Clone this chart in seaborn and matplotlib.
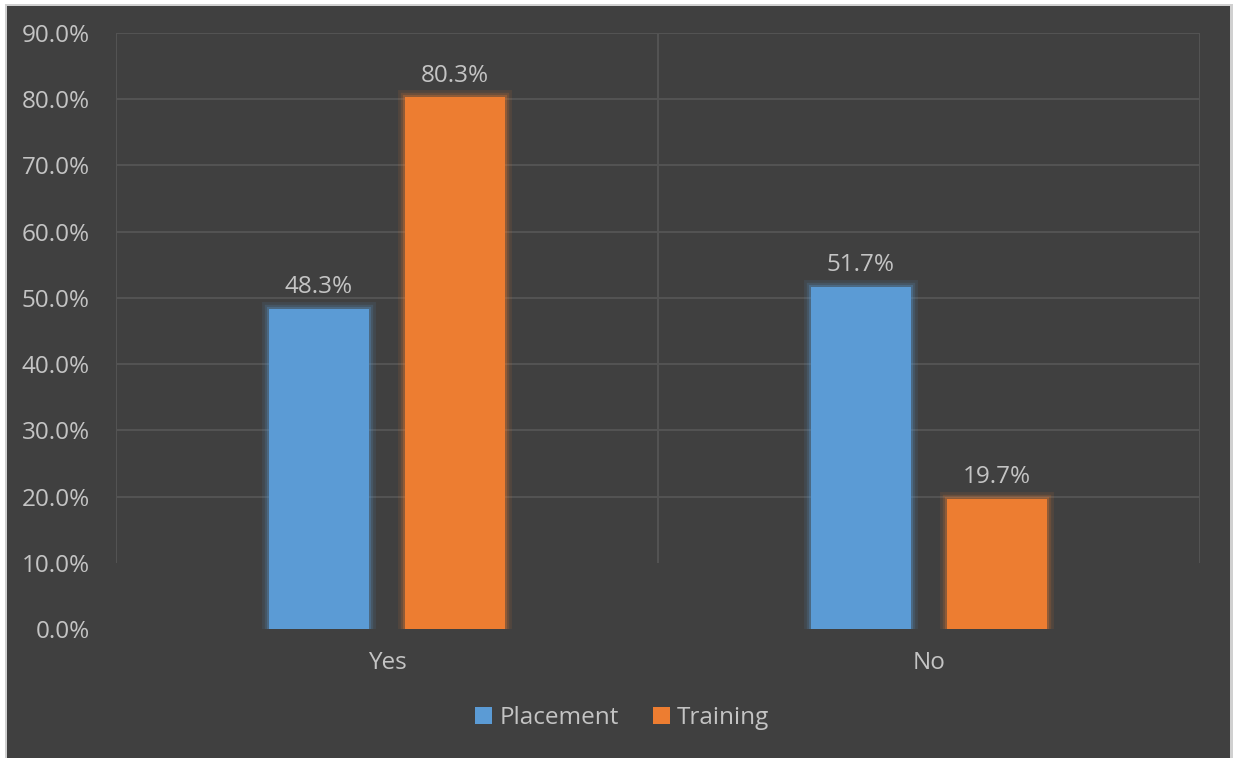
import matplotlib
matplotlib.use("Agg")
import matplotlib.pyplot as plt
import matplotlib.patheffects as pe
from matplotlib.patches import Rectangle
from matplotlib.ticker import FuncFormatter
import pandas as pd
import seaborn as sns

# Survey responses (percent of respondents)
categories = ["Yes", "No"]
series = ["Placement", "Training"]
placement = [48.3, 51.7]
training = [80.3, 19.7]
y_ticks = [0, 10, 20, 30, 40, 50, 60, 70, 80, 90]

df = pd.DataFrame({
    "answer": categories * 2,
    "series": [series[0]] * len(categories) + [series[1]] * len(categories),
    "value": placement + training,
})

BG = "#404040"
GRID = "#545454"
TEXT = "#c4c4c4"
COLORS = {"Placement": "#5b9bd5", "Training": "#ed7d31"}
FS = 17.5

sns.set_theme(style="white")
plt.rcParams["font.family"] = ["Open Sans", "DejaVu Sans"]

fig = plt.figure(figsize=(12.33, 7.58), dpi=100, facecolor="white")

# dark chart panel with a thin light frame
fig.patches.append(Rectangle((5 / 1233, 0), 1228 / 1233, 754 / 758,
                             transform=fig.transFigure, facecolor="#d0d0d0",
                             edgecolor="none", zorder=-2))
fig.patches.append(Rectangle((7 / 1233, 0), 1223 / 1233, 752 / 758,
                             transform=fig.transFigure, facecolor=BG,
                             edgecolor="none", zorder=-1))

ax = fig.add_axes([116 / 1233, 1 - 629 / 758, 1084 / 1233, 596 / 758])
ax.set_facecolor(BG)
ax.patch.set_alpha(0)

sns.barplot(data=df, x="answer", y="value", hue="series", order=categories,
            hue_order=series, palette=COLORS, width=0.502, gap=0.265,
            saturation=1, ax=ax, legend=False, zorder=3)

ax.set_xlim(-0.5, 1.5)
ax.set_ylim(0, 90)

# gridlines
for v in y_ticks:
    if v >= 20:
        ax.axhline(v, color=GRID, lw=1.4, zorder=1)
ax.vlines([-0.5, 0.5, 1.5], 10.0, 90, color=GRID, lw=1.4, zorder=1)

# soft glow around bars
for cont, name in zip(ax.containers, series):
    c = COLORS[name]
    for bar in cont:
        bar.set_edgecolor("none")
        bar.set_path_effects([
            pe.Stroke(linewidth=10, foreground=c, alpha=0.10),
            pe.Stroke(linewidth=6, foreground=c, alpha=0.16),
            pe.Stroke(linewidth=3, foreground=c, alpha=0.28),
            pe.Normal(),
        ])
    ax.bar_label(cont, fmt="%.1f%%", padding=7, color=TEXT, fontsize=FS)

ax.set_yticks(y_ticks)
ax.yaxis.set_major_formatter(FuncFormatter(lambda v, p: f"{v:.1f}%"))
ax.tick_params(axis="y", length=0, pad=19, labelsize=FS, labelcolor=TEXT)
ax.tick_params(axis="x", length=0, pad=16, labelsize=FS, labelcolor=TEXT)
ax.set_xlabel("")
ax.set_ylabel("")
for s in ax.spines.values():
    s.set_visible(False)

# legend centred under the chart
handles = [Rectangle((0, 0), 1, 1, facecolor=COLORS[s], edgecolor="none") for s in series]
fig.legend(handles, series, loc="center", bbox_to_anchor=(622 / 1233, 1 - 718 / 758),
           ncol=2, frameon=False, fontsize=FS, labelcolor=TEXT,
           handlelength=0.7, handleheight=0.7, handletextpad=0.3,
           columnspacing=1.4)

fig.savefig("out.png", dpi=100, facecolor="white")
